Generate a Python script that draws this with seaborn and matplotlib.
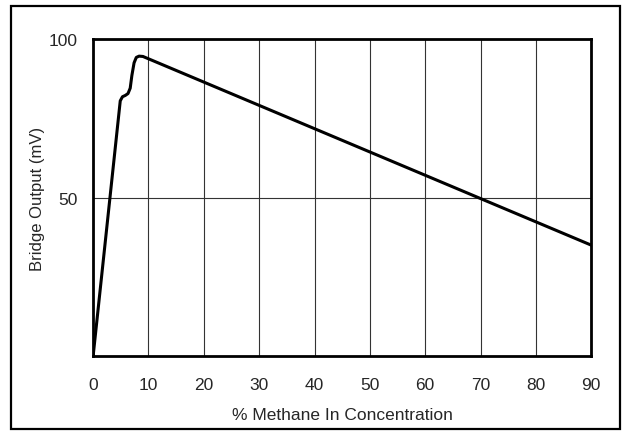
import matplotlib
matplotlib.use('Agg')
import matplotlib.pyplot as plt
import matplotlib.patches as patches
import seaborn as sns
import pandas as pd

# values
methane_pct = [0, 4.9, 5.3, 5.8, 6.3, 6.7, 7.0, 7.4, 7.8, 8.3, 9.0, 90]
bridge_mv = [0, 80.5, 81.8, 82.2, 82.8, 84.5, 88.5, 92.5, 94.2, 94.6, 94.5, 35]
x_ticks = [0, 10, 20, 30, 40, 50, 60, 70, 80, 90]
y_ticks = [50, 100]

df = pd.DataFrame({'pct': methane_pct, 'mv': bridge_mv})

sns.set_style('white')
plt.rcParams['font.family'] = ['Liberation Sans', 'DejaVu Sans']

fig, ax = plt.subplots(figsize=(6.25, 4.35), dpi=100)
fig.subplots_adjust(left=0.149, right=0.946, top=0.908, bottom=0.179)

sns.lineplot(data=df, x='pct', y='mv', ax=ax, color='black', linewidth=2.2,
             sort=False, estimator=None, solid_joinstyle='round')

ax.set_xlim(0, 90)
ax.set_ylim(0, 100)
ax.set_xticks(x_ticks)
ax.set_yticks(y_ticks)
ax.tick_params(labelsize=12.5, length=0)
ax.tick_params(axis='x', pad=15)
ax.tick_params(axis='y', pad=11)
ax.grid(True, color='#333333', linewidth=0.8)
ax.set_axisbelow(True)
for s in ax.spines.values():
    s.set_color('black')
    s.set_linewidth(2)

ax.set_xlabel('% Methane In Concentration', fontsize=12.5, labelpad=11)
ax.set_ylabel('Bridge Output (mV)', fontsize=12, labelpad=3)

# outer frame round the whole figure
frame = patches.Rectangle((0.017, 0.012), 0.975, 0.973, transform=fig.transFigure,
                          fill=False, edgecolor='black', linewidth=1.6)
fig.patches.append(frame)

fig.savefig('out.png', dpi=100)
